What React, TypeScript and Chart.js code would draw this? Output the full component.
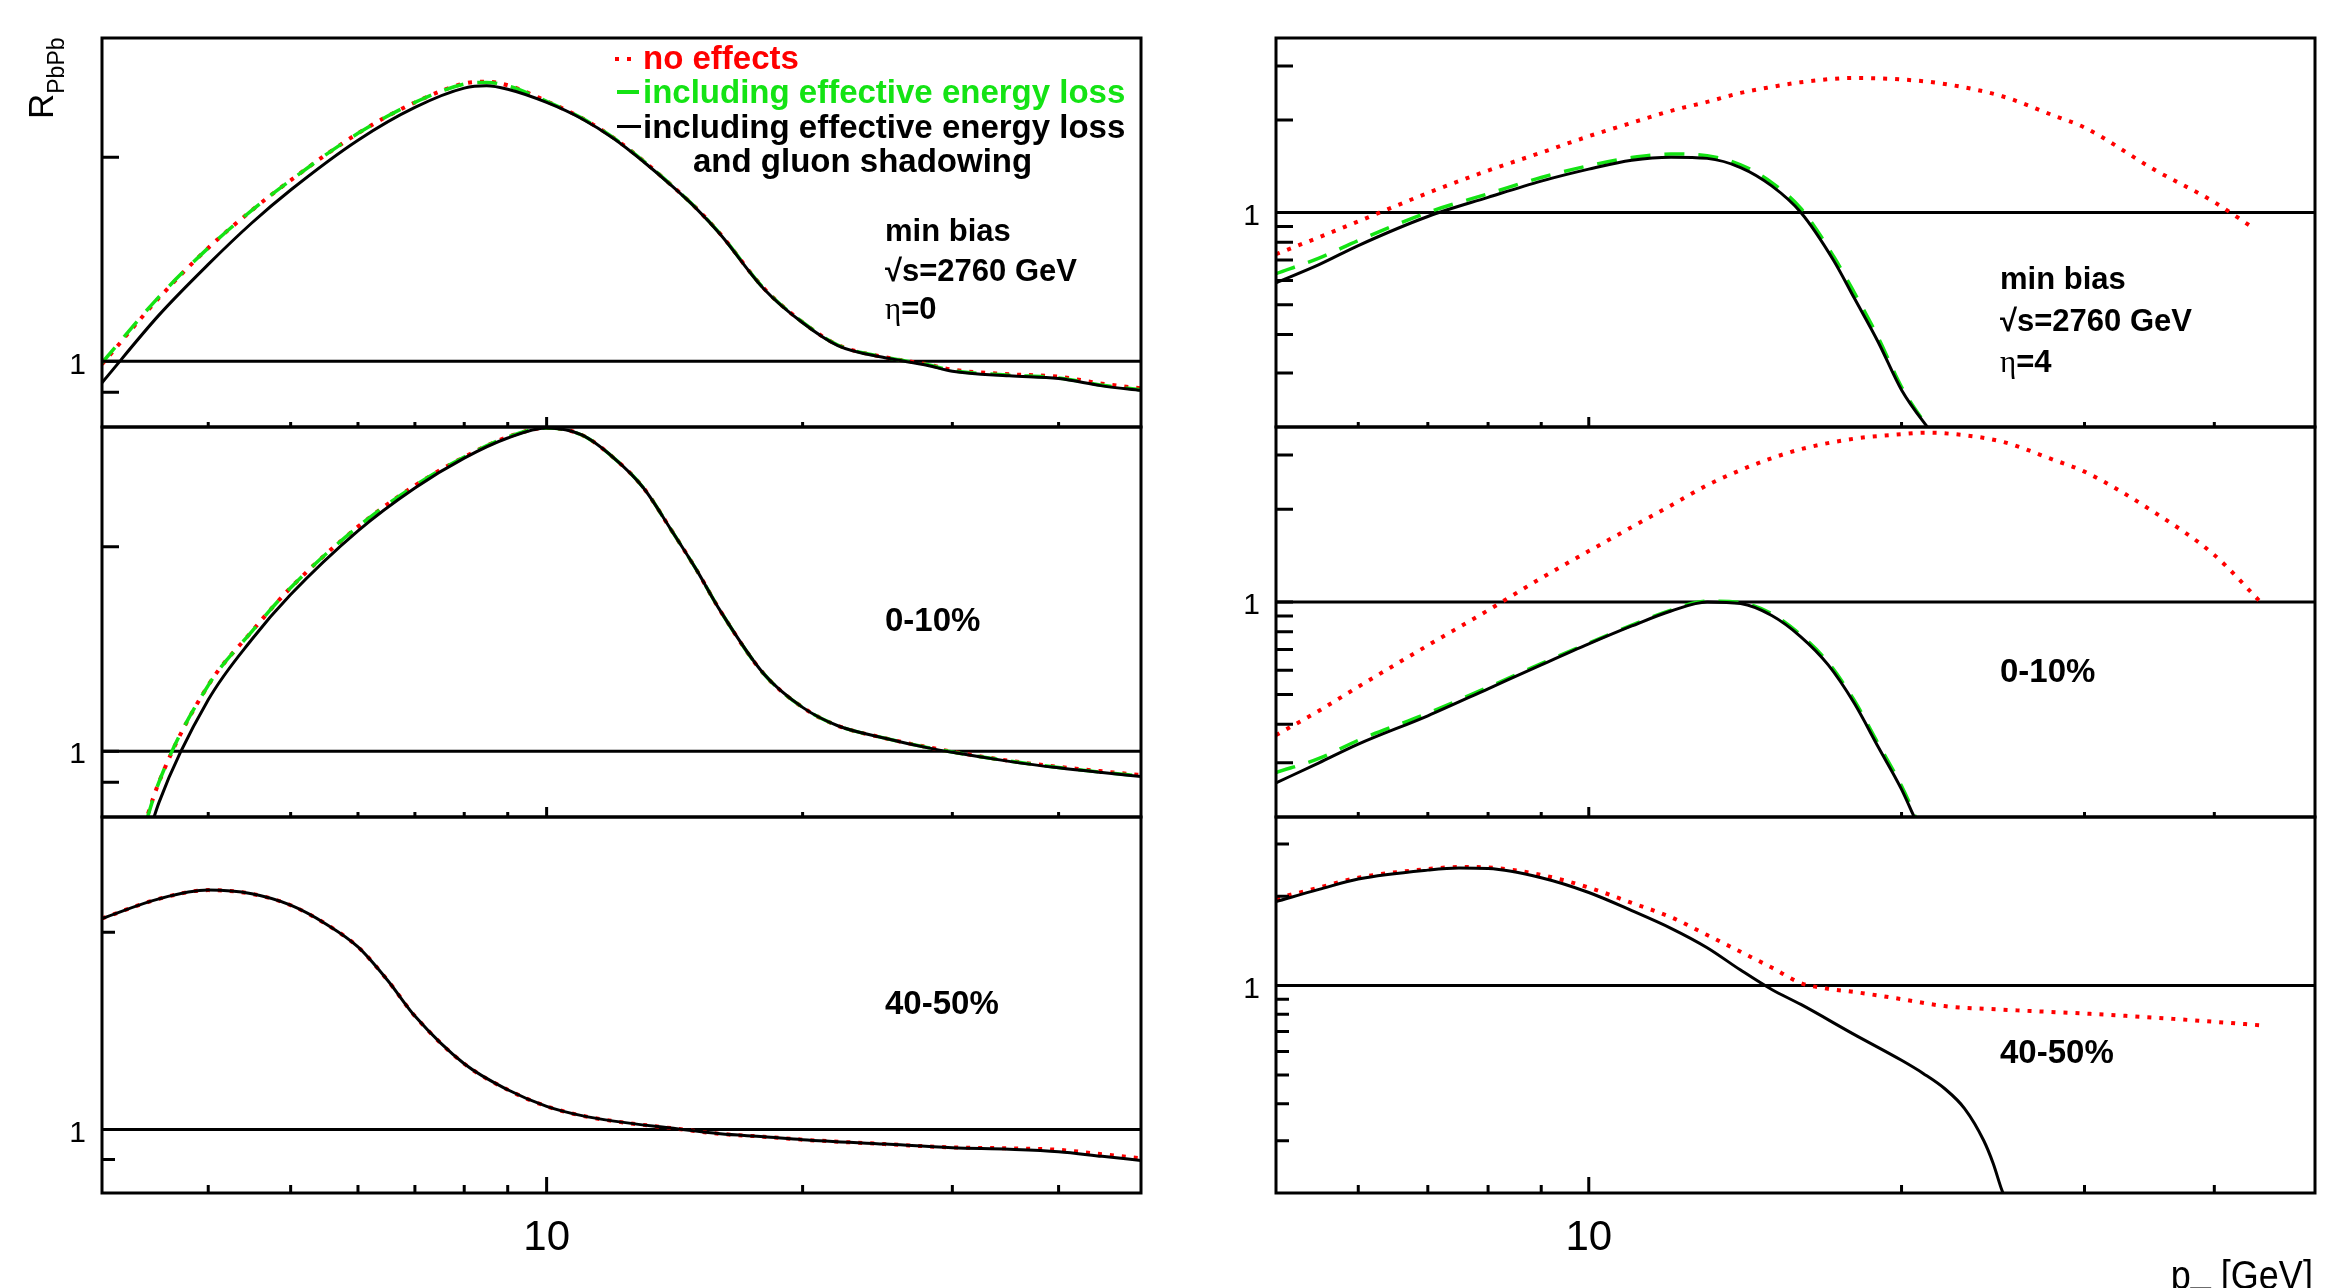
import React, { useEffect, useRef } from 'react';
import { Chart, registerables } from 'chart.js';

Chart.register(...registerables);

const SANS = "'Liberation Sans', Arial, Helvetica, sans-serif";
const SERIF = "'Liberation Serif', 'DejaVu Serif', serif";
Chart.defaults.font.family = SANS;

// ---------------- axes ----------------
const LEFT_X_RANGE = [3, 50];
const RIGHT_X_RANGE = [5, 50];
const LEFT_Y_RANGE = [0.8, 3];
const RIGHT_Y_RANGE = [0.2, 3.7];
const LEFT_X_TICKS = [4, 5, 6, 7, 8, 9, 10, 20, 30, 40];
const RIGHT_X_TICKS = [6, 7, 8, 9, 10, 20, 30, 40];
const LEFT_Y_TICKS = [0.9, 1, 2];
const RIGHT_Y_TICKS = [0.3, 0.4, 0.5, 0.6, 0.7, 0.8, 0.9, 1, 2, 3];
const MAJOR_X_TICKS = [10];
const X_TICK_LABELS = [10];
const Y_TICK_LABELS = [1];
const UNITY = 1;

// ---------------- eta = 0, min bias ----------------
const L1_X = [3, 3.5, 4, 4.5, 5, 6, 7, 8, 8.5, 9, 10, 11, 12, 13, 14, 15, 16, 18, 20, 22, 25, 28, 30, 35, 40, 45, 50];
const L1_BLACK = [0.93, 1.17, 1.39, 1.6, 1.79, 2.12, 2.37, 2.53, 2.55, 2.52, 2.41, 2.28, 2.13, 1.97, 1.82, 1.68, 1.54, 1.28, 1.14, 1.055, 1.012, 0.987, 0.967, 0.952, 0.943, 0.92, 0.906];
const L1_GREEN = [0.995, 1.245, 1.47, 1.67, 1.85, 2.17, 2.41, 2.565, 2.58, 2.55, 2.42, 2.285, 2.135, 1.975, 1.822, 1.682, 1.542, 1.282, 1.142, 1.057, 1.014, 0.989, 0.969, 0.954, 0.945, 0.922, 0.908];
const L1_RED = [0.99, 1.24, 1.47, 1.67, 1.85, 2.17, 2.41, 2.57, 2.585, 2.555, 2.42, 2.285, 2.135, 1.975, 1.822, 1.682, 1.542, 1.282, 1.142, 1.057, 1.014, 0.99, 0.972, 0.957, 0.949, 0.927, 0.912];

// ---------------- eta = 0, 0-10% ----------------
const L2_X = [3.3, 3.5, 4, 4.5, 5, 6, 7, 8, 9, 10, 11, 12, 13, 14, 15, 16, 18, 20, 22, 25, 28, 30, 35, 40, 45, 50];
const L2_BLACK = [0.66, 0.84, 1.19, 1.46, 1.7, 2.11, 2.44, 2.7, 2.89, 2.99, 2.92, 2.7, 2.44, 2.12, 1.85, 1.61, 1.3, 1.16, 1.09, 1.045, 1.012, 0.996, 0.966, 0.945, 0.93, 0.918];
const L2_GREEN = [0.71, 0.9, 1.25, 1.5, 1.74, 2.14, 2.46, 2.71, 2.9, 2.99, 2.92, 2.7, 2.44, 2.12, 1.85, 1.61, 1.3, 1.16, 1.09, 1.045, 1.013, 0.997, 0.967, 0.946, 0.931, 0.919];
const L2_RED = [0.72, 0.9, 1.25, 1.5, 1.74, 2.14, 2.46, 2.71, 2.9, 2.99, 2.92, 2.7, 2.44, 2.12, 1.85, 1.61, 1.3, 1.16, 1.09, 1.045, 1.014, 0.998, 0.968, 0.948, 0.934, 0.922];

// ---------------- eta = 0, 40-50% ----------------
const L3_X = [3, 3.5, 4, 4.5, 5, 5.5, 6, 6.5, 7, 8, 9, 10, 11, 12, 14, 16, 18, 20, 25, 30, 35, 40, 45, 50];
const L3_BLACK = [2.1, 2.25, 2.32, 2.29, 2.2, 2.06, 1.9, 1.69, 1.49, 1.26, 1.15, 1.085, 1.05, 1.03, 1.005, 0.985, 0.975, 0.965, 0.95, 0.938, 0.933, 0.925, 0.91, 0.897];
const L3_RED = [2.1, 2.25, 2.32, 2.29, 2.2, 2.06, 1.9, 1.69, 1.49, 1.26, 1.15, 1.085, 1.05, 1.03, 1.005, 0.985, 0.975, 0.965, 0.95, 0.939, 0.936, 0.931, 0.917, 0.904];

// ---------------- eta = 4, min bias ----------------
const R1_X = [5, 5.5, 6, 7, 8, 9, 10, 11, 12, 13, 14, 15, 16, 17.2, 18, 19, 20, 21.2, 22];
const R1_BLACK = [0.59, 0.676, 0.78, 0.97, 1.12, 1.265, 1.384, 1.48, 1.514, 1.5, 1.4, 1.22, 1.0, 0.699, 0.528, 0.377, 0.264, 0.199, 0.17];
const R1_GREEN = [0.632, 0.71, 0.81, 1.0, 1.15, 1.3, 1.42, 1.51, 1.55, 1.53, 1.43, 1.25, 1.03, 0.72, 0.55, 0.39, 0.27, 0.2, 0.17];
const R1_RED_X = [5, 5.5, 6, 7, 8, 9, 10, 11, 12, 13, 14, 15, 16, 18, 20, 22, 25, 28, 30, 35, 40, 43.4];
const R1_RED = [0.731, 0.83, 0.935, 1.157, 1.369, 1.566, 1.771, 1.959, 2.143, 2.291, 2.451, 2.563, 2.656, 2.741, 2.711, 2.621, 2.39, 2.07, 1.89, 1.38, 1.08, 0.9];

// ---------------- eta = 4, 0-10% ----------------
const R2_X = [5, 5.5, 6, 7, 8, 9, 10, 11, 12, 13, 14, 15, 16, 17, 18, 19, 20, 20.5, 21];
const R2_BLACK = [0.258, 0.3, 0.345, 0.4265, 0.522, 0.624, 0.73, 0.835, 0.934, 1.0, 0.988, 0.903, 0.77, 0.624, 0.47, 0.337, 0.246, 0.205, 0.17];
const R2_GREEN = [0.279, 0.31, 0.355, 0.435, 0.528, 0.63, 0.735, 0.84, 0.94, 1.005, 0.995, 0.915, 0.78, 0.635, 0.48, 0.345, 0.252, 0.21, 0.17];
const R2_RED_X = [5, 5.5, 6, 7, 8, 9, 10, 11, 12, 13, 14, 15, 16, 18, 20, 21, 22, 25, 28, 30, 35, 40, 44.3];
const R2_RED = [0.369, 0.443, 0.53, 0.722, 0.939, 1.195, 1.462, 1.75, 2.058, 2.394, 2.68, 2.93, 3.134, 3.39, 3.506, 3.545, 3.53, 3.314, 2.896, 2.649, 1.957, 1.42, 1.0];

// ---------------- eta = 4, 40-50% ----------------
const R3_X = [5, 5.5, 6, 7, 7.5, 8, 9, 10, 11, 12, 13, 14, 15, 16, 18, 20, 21, 22, 23, 24, 24.5, 25, 26];
const R3_BLACK = [1.92, 2.11, 2.286, 2.45, 2.49, 2.48, 2.31, 2.06, 1.79, 1.56, 1.342, 1.128, 0.97, 0.864, 0.685, 0.56, 0.505, 0.45, 0.385, 0.3, 0.252, 0.203, 0.15];
const R3_RED_X = [5, 5.5, 6, 7, 7.5, 8, 9, 10, 11, 12, 13, 14, 15, 16, 17, 18, 20, 22, 25, 30, 35, 40, 44.3];
const R3_RED = [1.966, 2.14, 2.31, 2.47, 2.51, 2.5, 2.36, 2.14, 1.9, 1.7, 1.48, 1.3, 1.15, 1.02, 0.975, 0.952, 0.9, 0.853, 0.83, 0.805, 0.78, 0.755, 0.735];

// ---------------- layout / styles ----------------
const W = 2335;
const H = 1288;
const ML = 100;
const MR = 45;
const MT = 50;
const MB = 80;

const TICKS_TOP = { xMinor: 5, xMajor: 10, y: 17 };
const TICKS_BOTTOM = { xMinor: 8, xMajor: 16, y: 13 };

const GREEN = '#14e314';
const RED = '#ff0000';

const SERIES_STYLE: Record<string, any> = {
  black: { borderColor: '#000', borderWidth: 3, order: 1 },
  green: { borderColor: GREEN, borderWidth: 3.5, borderDash: [20, 14], order: 2 },
  red: { borderColor: RED, borderWidth: 4, borderDash: [4, 8], order: 3 },
  unity: { borderColor: '#000', borderWidth: 3, order: 4, cubicInterpolationMode: 'default', tension: 0 },
};

type Series = { xs: number[]; ys: number[]; kind: 'black' | 'green' | 'red' };
type PanelSpec = {
  box: { x0: number; x1: number; y0: number; y1: number };
  xRange: number[];
  yRange: number[];
  xTicks: number[];
  yTicks: number[];
  bottom: boolean;
  series: Series[];
};

const LEFT_BOX = { x0: 102, x1: 1141 };
const RIGHT_BOX = { x0: 1276, x1: 2315 };
const ROWS = [
  { y0: 38, y1: 427 },
  { y0: 427, y1: 817 },
  { y0: 817, y1: 1193 },
];

const PANELS: PanelSpec[] = [
  {
    box: { ...LEFT_BOX, ...ROWS[0] }, xRange: LEFT_X_RANGE, yRange: LEFT_Y_RANGE, xTicks: LEFT_X_TICKS, yTicks: LEFT_Y_TICKS, bottom: false,
    series: [
      { xs: L1_X, ys: L1_BLACK, kind: 'black' },
      { xs: L1_X, ys: L1_GREEN, kind: 'green' },
      { xs: L1_X, ys: L1_RED, kind: 'red' },
    ],
  },
  {
    box: { ...LEFT_BOX, ...ROWS[1] }, xRange: LEFT_X_RANGE, yRange: LEFT_Y_RANGE, xTicks: LEFT_X_TICKS, yTicks: LEFT_Y_TICKS, bottom: false,
    series: [
      { xs: L2_X, ys: L2_BLACK, kind: 'black' },
      { xs: L2_X, ys: L2_GREEN, kind: 'green' },
      { xs: L2_X, ys: L2_RED, kind: 'red' },
    ],
  },
  {
    box: { ...LEFT_BOX, ...ROWS[2] }, xRange: LEFT_X_RANGE, yRange: LEFT_Y_RANGE, xTicks: LEFT_X_TICKS, yTicks: LEFT_Y_TICKS, bottom: true,
    series: [
      { xs: L3_X, ys: L3_BLACK, kind: 'black' },
      { xs: L3_X, ys: L3_RED, kind: 'red' },
    ],
  },
  {
    box: { ...RIGHT_BOX, ...ROWS[0] }, xRange: RIGHT_X_RANGE, yRange: RIGHT_Y_RANGE, xTicks: RIGHT_X_TICKS, yTicks: RIGHT_Y_TICKS, bottom: false,
    series: [
      { xs: R1_X, ys: R1_BLACK, kind: 'black' },
      { xs: R1_X, ys: R1_GREEN, kind: 'green' },
      { xs: R1_RED_X, ys: R1_RED, kind: 'red' },
    ],
  },
  {
    box: { ...RIGHT_BOX, ...ROWS[1] }, xRange: RIGHT_X_RANGE, yRange: RIGHT_Y_RANGE, xTicks: RIGHT_X_TICKS, yTicks: RIGHT_Y_TICKS, bottom: false,
    series: [
      { xs: R2_X, ys: R2_BLACK, kind: 'black' },
      { xs: R2_X, ys: R2_GREEN, kind: 'green' },
      { xs: R2_RED_X, ys: R2_RED, kind: 'red' },
    ],
  },
  {
    box: { ...RIGHT_BOX, ...ROWS[2] }, xRange: RIGHT_X_RANGE, yRange: RIGHT_Y_RANGE, xTicks: RIGHT_X_TICKS, yTicks: RIGHT_Y_TICKS, bottom: true,
    series: [
      { xs: R3_X, ys: R3_BLACK, kind: 'black' },
      { xs: R3_RED_X, ys: R3_RED, kind: 'red' },
    ],
  },
];

const near = (a: number, b: number) => Math.abs(a - b) < 1e-7;

function Panel({ spec }: { spec: PanelSpec }) {
  const ref = useRef<HTMLCanvasElement | null>(null);
  const { x0, x1, y0, y1 } = spec.box;
  const cw = x1 - x0 + ML + MR;
  const ch = y1 - y0 + MT + MB;

  useEffect(() => {
    const canvas = ref.current;
    if (!canvas) return;
    const datasets: any[] = spec.series.map((s) => ({
      data: s.xs.map((x, i) => ({ x, y: s.ys[i] })),
      showLine: true,
      pointRadius: 0,
      fill: false,
      cubicInterpolationMode: 'monotone',
      ...SERIES_STYLE[s.kind],
    }));
    datasets.push({
      data: [
        { x: spec.xRange[0], y: UNITY },
        { x: spec.xRange[1], y: UNITY },
      ],
      showLine: true,
      pointRadius: 0,
      fill: false,
      ...SERIES_STYLE.unity,
    });

    const t = spec.bottom ? TICKS_BOTTOM : TICKS_TOP;
    const frame = {
      id: 'rootFrame',
      afterDatasetsDraw(chart: any) {
        const { ctx, chartArea: a } = chart;
        const xs = chart.scales.x;
        const ys = chart.scales.y;
        ctx.save();
        ctx.strokeStyle = '#000';
        ctx.lineWidth = 3;
        ctx.lineCap = 'butt';
        ctx.beginPath();
        spec.xTicks.forEach((v) => {
          const px = xs.getPixelForValue(v);
          const len = MAJOR_X_TICKS.some((m) => near(m, v)) ? t.xMajor : t.xMinor;
          ctx.moveTo(px, a.bottom);
          ctx.lineTo(px, a.bottom - len);
        });
        spec.yTicks.forEach((v) => {
          const py = ys.getPixelForValue(v);
          ctx.moveTo(a.left, py);
          ctx.lineTo(a.left + t.y, py);
        });
        ctx.stroke();
        ctx.strokeRect(a.left, a.top, a.right - a.left, a.bottom - a.top);
        ctx.restore();
      },
    };

    const chart = new Chart(canvas, {
      type: 'scatter',
      data: { datasets },
      options: {
        responsive: false,
        animation: false,
        devicePixelRatio: 1,
        events: [],
        layout: { padding: { top: MT, right: MR, left: 0, bottom: 0 } },
        plugins: { legend: { display: false }, tooltip: { enabled: false } },
        scales: {
          x: {
            type: 'logarithmic',
            min: spec.xRange[0],
            max: spec.xRange[1],
            position: 'bottom',
            grid: { display: false, drawTicks: false },
            border: { display: false },
            ticks: {
              autoSkip: false,
              maxRotation: 0,
              minRotation: 0,
              padding: 20,
              color: '#000',
              font: { size: 42, family: SANS },
              callback: (v: any) => {
                if (!spec.bottom) return '';
                const hit = X_TICK_LABELS.find((l) => near(l, Number(v)));
                return hit !== undefined ? String(hit) : '';
              },
            },
            afterFit: (s: any) => {
              s.height = MB;
            },
          },
          y: {
            type: 'logarithmic',
            min: spec.yRange[0],
            max: spec.yRange[1],
            position: 'left',
            grid: { display: false, drawTicks: false },
            border: { display: false },
            ticks: {
              autoSkip: false,
              padding: 16,
              labelOffset: 4,
              color: '#000',
              font: { size: 30, family: SANS },
              callback: (v: any) => {
                const hit = Y_TICK_LABELS.find((l) => near(l, Number(v)));
                return hit !== undefined ? String(hit) : '';
              },
            },
            afterFit: (s: any) => {
              s.width = ML;
            },
          },
        },
      } as any,
      plugins: [frame],
    });
    return () => chart.destroy();
  }, [spec]);

  return (
    <canvas
      ref={ref}
      width={cw}
      height={ch}
      style={{ position: 'absolute', left: x0 - ML, top: y0 - MT, width: cw, height: ch }}
    />
  );
}

type TxtProps = {
  x: number;
  base: number;
  size: number;
  bold?: boolean;
  color?: string;
  align?: 'left' | 'right';
  sx?: number;
  children: React.ReactNode;
};

function Txt({ x, base, size, bold, color = '#000', align = 'left', sx = 1, children }: TxtProps) {
  const top = base - 0.9215 * size;
  const style: React.CSSProperties = {
    position: 'absolute',
    top,
    lineHeight: `${size * 1.15}px`,
    fontSize: size,
    fontFamily: SANS,
    fontWeight: bold ? 700 : 400,
    color,
    whiteSpace: 'nowrap',
    transform: sx !== 1 ? `scaleX(${sx})` : undefined,
    transformOrigin: align === 'left' ? 'left center' : 'right center',
  };
  if (align === 'left') style.left = x;
  else style.right = W - x;
  return <div style={style}>{children}</div>;
}

const Eta = () => <span style={{ fontFamily: SERIF, fontWeight: 400 }}>η</span>;

export default function App() {
  return (
    <div
      style={{
        position: 'fixed',
        left: 0,
        top: 0,
        width: W,
        height: H,
        background: '#fff',
        overflow: 'hidden',
      }}
    >
      {PANELS.map((p, i) => (
        <Panel key={i} spec={p} />
      ))}

      {/* y-axis title */}
      <div
        style={{
          position: 'absolute',
          left: 53 - 0.9215 * 35,
          top: 119,
          transform: 'rotate(-90deg)',
          transformOrigin: 'left top',
          fontFamily: SANS,
          fontSize: 35,
          lineHeight: `${35 * 1.15}px`,
          whiteSpace: 'nowrap',
          color: '#000',
        }}
      >
        R<span style={{ fontSize: 23, position: 'relative', top: 11 }}>PbPb</span>
      </div>

      {/* x-axis title */}
      <Txt x={2313} base={1289} size={40} align="right" sx={0.9}>
        p<span style={{ position: 'relative', top: -7 }}>_</span> [GeV]
      </Txt>

      {/* legend */}
      <div style={{ position: 'absolute', left: 615, top: 57, width: 4, height: 4, background: RED }} />
      <div style={{ position: 'absolute', left: 627, top: 57, width: 4, height: 4, background: RED }} />
      <div style={{ position: 'absolute', left: 617, top: 90, width: 22, height: 3.5, background: GREEN }} />
      <div style={{ position: 'absolute', left: 617, top: 125, width: 24, height: 3, background: '#000' }} />
      <Txt x={643} base={69.5} size={33} bold color={RED}>no effects</Txt>
      <Txt x={643} base={103.5} size={33} bold color={GREEN}>including effective energy loss</Txt>
      <Txt x={643} base={138.5} size={33} bold>including effective energy loss</Txt>
      <Txt x={693} base={172.5} size={33} bold>and gluon shadowing</Txt>

      {/* left column annotations */}
      <Txt x={885} base={242} size={31} bold>min bias</Txt>
      <Txt x={885} base={282} size={31} bold>√s=2760 GeV</Txt>
      <Txt x={885} base={320} size={31} bold><Eta />=0</Txt>
      <Txt x={885} base={631} size={33} bold>0-10%</Txt>
      <Txt x={885} base={1014} size={33} bold>40-50%</Txt>

      {/* right column annotations */}
      <Txt x={2000} base={290} size={31} bold>min bias</Txt>
      <Txt x={2000} base={332} size={31} bold>√s=2760 GeV</Txt>
      <Txt x={2000} base={373} size={31} bold><Eta />=4</Txt>
      <Txt x={2000} base={682} size={33} bold>0-10%</Txt>
      <Txt x={2000} base={1063} size={33} bold>40-50%</Txt>
    </div>
  );
}
